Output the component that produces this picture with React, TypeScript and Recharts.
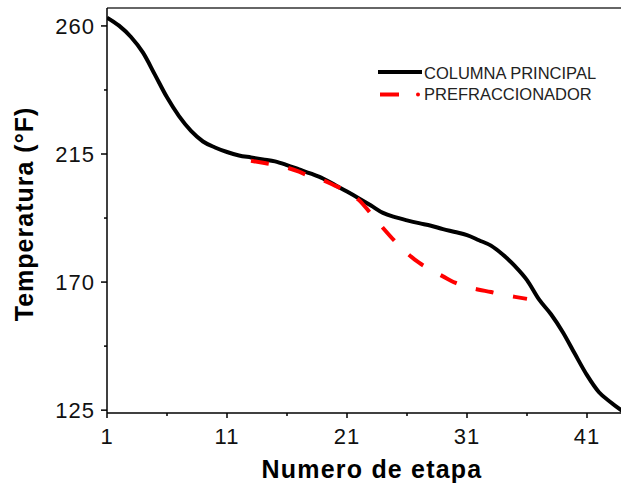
import { LineChart, Line, XAxis, YAxis, ReferenceLine, Legend, Label } from "recharts";

// stage numbers (Numero de etapa)
const stages = [
  1, 2, 3, 4, 5, 6, 7, 8, 9, 10, 11, 12, 13, 14, 15, 16, 17, 18, 19, 20, 21, 22,
  23, 24, 25, 26, 27, 28, 29, 30, 31, 32, 33, 34, 35, 36, 37, 38, 39, 40, 41, 42,
  43, 44,
];

// COLUMNA PRINCIPAL, °F
const principal = [
  262.9, 260.1, 256.1, 250.6, 242.8, 234.9, 228.3, 223.1, 219.4, 217.3, 215.7,
  214.5, 213.8, 213.1, 212.4, 211.1, 209.6, 208.1, 206.4, 204.1, 201.8, 199.4,
  196.9, 194.3, 192.8, 191.7, 190.7, 189.8, 188.6, 187.6, 186.5, 184.7, 182.8,
  179.6, 175.6, 170.7, 163.9, 158.7, 152.3, 144.7, 137.3, 131.3, 127.7, 124.5,
];

// PREFRACCIONADOR, °F (only stages 13-36)
const prefracc = [
  null, null, null, null, null, null, null, null, null, null, null, null,
  212.6, 211.9, 211.2, 210.2, 208.8, 207.0, 205.8, 203.9, 201.8, 198.8, 194.0,
  189.0, 184.3, 180.2, 176.8, 174.3, 172.0, 169.8, 168.3, 167.3, 166.5, 165.5,
  164.8, 164.1, null, null, null, null, null, null, null, null,
];

const xMajor = [1, 11, 21, 31, 41];
const xTicks = [1, 6, 11, 16, 21, 26, 31, 36, 41, 46];
const yMajor = [125, 170, 215, 260];
const yTicks = [125, 147.5, 170, 192.5, 215, 237.5, 260];

const data = stages.map((s, i) => ({
  stage: s,
  principal: principal[i],
  prefracc: prefracc[i],
}));

const tickFont = {
  fontFamily: "'Liberation Sans', Arial, sans-serif",
  fontSize: 22,
  letterSpacing: 1,
  fill: "#111",
};

const XTick = (props: any) => {
  const { x, y, payload } = props;
  const major = xMajor.includes(payload.value);
  return (
    <g>
      <line x1={x} x2={x} y1={y} y2={y + (major ? 5 : 3)} stroke="#000" strokeWidth={1.5} />
      {major && (
        <text x={x} y={y + 15} dy="0.71em" textAnchor="middle" style={tickFont}>
          {payload.value}
        </text>
      )}
    </g>
  );
};

const YTick = (props: any) => {
  const { x, y, payload } = props;
  const major = yMajor.includes(payload.value);
  return (
    <g>
      <line x1={x - (major ? 6 : 3)} x2={x} y1={y} y2={y} stroke="#000" strokeWidth={1.5} />
      {major && (
        <text x={x - 12} y={y} dy="0.355em" textAnchor="end" style={tickFont}>
          {payload.value}
        </text>
      )}
    </g>
  );
};

const legendFont = {
  fontFamily: "'Liberation Sans', Arial, sans-serif",
  fontSize: 16.5,
  fill: "#222",
};

const renderLegend = () => (
  <svg width={240} height={46}>
    <line x1={2} x2={46} y1={12} y2={12} stroke="#000" strokeWidth={4} />
    <text x={48} y={18.5} style={legendFont}>
      COLUMNA PRINCIPAL
    </text>
    <line x1={4} x2={23} y1={34.5} y2={34.5} stroke="#ff0000" strokeWidth={4} />
    <circle cx={42} cy={34.5} r={2} fill="#ff0000" />
    <text x={48} y={39.5} style={legendFont}>
      PREFRACCIONADOR
    </text>
  </svg>
);

export default function App() {
  return (
    <div
      style={{
        position: "absolute",
        left: 0,
        top: 0,
        width: 621,
        height: 483,
        overflow: "hidden",
        background: "#fff",
      }}
    >
      <LineChart
        width={660}
        height={483}
        data={data}
        margin={{ top: 8, right: 13, bottom: 0, left: 0 }}
      >
        <XAxis
          dataKey="stage"
          type="number"
          domain={[1, 46]}
          ticks={xTicks}
          allowDataOverflow
          height={70}
          tickSize={0}
          tickMargin={0}
          tickLine={false}
          axisLine={{ stroke: "#000", strokeWidth: 1.5 }}
          tick={<XTick />}
          interval={0}
        >
          <Label
            content={() => (
              <text
                x={372}
                y={478}
                textAnchor="middle"
                style={{
                  fontFamily: "'Liberation Sans', Arial, sans-serif",
                  fontSize: 25,
                  fontWeight: 700,
                  letterSpacing: 1.2,
                  fill: "#000",
                }}
              >
                Numero de etapa
              </text>
            )}
          />
        </XAxis>
        <YAxis
          type="number"
          domain={[124, 266.3]}
          ticks={yTicks}
          allowDataOverflow
          width={107}
          tickSize={0}
          tickMargin={0}
          tickLine={false}
          axisLine={{ stroke: "#000", strokeWidth: 1.5 }}
          tick={<YTick />}
          interval={0}
        >
          <Label
            content={() => (
              <text
                x={33}
                y={214}
                transform="rotate(-90, 33, 214)"
                textAnchor="middle"
                style={{
                  fontFamily: "'Liberation Sans', Arial, sans-serif",
                  fontSize: 25,
                  fontWeight: 700,
                  letterSpacing: 1,
                  fill: "#000",
                }}
              >
                Temperatura (°F)
              </text>
            )}
          />
        </YAxis>
        <ReferenceLine y={266.3} stroke="#333" strokeWidth={1.5} />
        <Legend
          layout="vertical"
          align="center"
          verticalAlign="middle"
          content={renderLegend}
          wrapperStyle={{ top: 60, left: 376, width: 240, height: 46 }}
        />
        <Line
          type="monotone"
          dataKey="principal"
          stroke="#000"
          strokeWidth={4}
          dot={false}
          isAnimationActive={false}
          name="COLUMNA PRINCIPAL"
        />
        <Line
          type="monotone"
          dataKey="prefracc"
          stroke="#ff0000"
          strokeWidth={4}
          strokeDasharray="18 20"
          dot={false}
          connectNulls={false}
          isAnimationActive={false}
          name="PREFRACCIONADOR"
        />
      </LineChart>
    </div>
  );
}
